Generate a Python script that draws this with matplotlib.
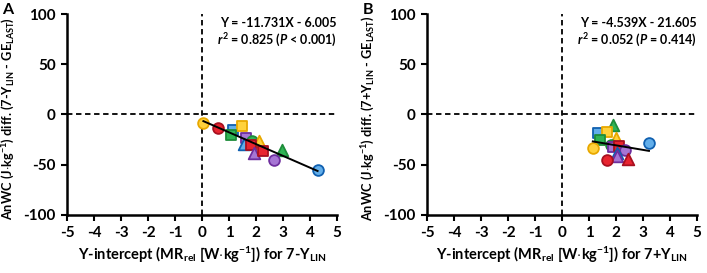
import matplotlib
matplotlib.use("Agg")
import matplotlib.pyplot as plt
import numpy as np

plt.rcParams['font.family'] = ['Lato', 'DejaVu Sans']
plt.rcParams['font.weight'] = 'bold'
plt.rcParams['mathtext.fontset'] = 'custom'
plt.rcParams['mathtext.rm'] = 'Lato:bold'
plt.rcParams['mathtext.it'] = 'Lato:bold:italic'
plt.rcParams['mathtext.bf'] = 'Lato:bold'
plt.rcParams['mathtext.default'] = 'rm'
plt.rcParams['axes.unicode_minus'] = False

# colour / marker per point
colors_a = ['yellow', 'red', 'blue', 'yellow', 'green', 'purple', 'green', 'yellow',
            'blue', 'red', 'purple', 'red', 'green', 'purple', 'blue']
markers_a = ['o', 'o', 's', 's', 's', 's', 'o', '^', '^', 's', '^', 's', '^', 'o', 'o']
x_a = [0.05, 0.6, 1.16, 1.47, 1.07, 1.62, 1.86, 2.11, 1.57, 1.81, 1.93, 2.25, 2.95, 2.67, 4.28]
y_a = [-8.5, -13.6, -15, -11.6, -20, -23, -26.5, -26.5, -29, -30, -38.5, -36, -35, -45, -55]

colors_b = ['green', 'blue', 'yellow', 'green', 'yellow', 'yellow', 'green', 'purple', 'red',
            'purple', 'blue', 'purple', 'red', 'red', 'blue']
markers_b = ['^', 's', 's', 's', '^', 'o', 'o', 's', 's', 'o', '^', '^', 'o', '^', 'o']
x_b = [1.9, 1.35, 1.68, 1.41, 2.0, 1.14, 1.8, 1.9, 2.12, 2.33, 2.02, 2.02, 1.68, 2.45, 3.22]
y_b = [-10.3, -18.6, -17.6, -25, -23.5, -33, -30, -32, -31.5, -35, -38.5, -41, -45, -44, -28.5]

fit_a = (-11.731, -6.005)
fit_b = (-4.539, -21.605)

palette = {
    'yellow': ('#FFD23C', '#E8A800'),
    'red': ('#E8242F', '#A81020'),
    'blue': ('#62AEEA', '#1060B0'),
    'green': ('#2FB454', '#1E8C3A'),
    'purple': ('#A675D4', '#6E2E9E'),
}

fig = plt.figure(figsize=(7.07, 2.73), dpi=100)
axA = fig.add_axes([0.0948, 0.2125, 0.3819, 0.7362])
axB = fig.add_axes([0.604, 0.2125, 0.3819, 0.7362])

def draw(ax, xs, ys, cs, ms, fit, ylabel, xlabel, eq1, eq2, letter):
    ax.axhline(0, color='black', ls=(0, (3, 2)), lw=1.3, zorder=1)
    ax.axvline(0, color='black', ls=(0, (3, 2)), lw=1.3, zorder=1)
    for x, y, c, m in zip(xs, ys, cs, ms):
        fc, ec = palette[c]
        s = 60 if m != '^' else 70
        ax.scatter([x], [y], marker=m, s=s, facecolor=fc, edgecolor=ec, linewidth=1.3, zorder=3)
    xx = np.array([min(xs), max(xs)])
    ax.plot(xx, fit[0] * xx + fit[1], color='black', lw=1.4, zorder=4)
    ax.set_xlim(-5, 5)
    ax.set_ylim(-100, 100)
    ax.set_xticks(range(-5, 6))
    ax.set_yticks([-100, -50, 0, 50, 100])
    for sp in ['top', 'right']:
        ax.spines[sp].set_visible(False)
    for sp in ['left', 'bottom']:
        ax.spines[sp].set_linewidth(1.8)
    ax.tick_params(axis='both', direction='out', width=1.5, length=4, labelsize=11, pad=4)
    ax.set_ylabel(ylabel, fontsize=9.2, fontweight='bold')
    ax.yaxis.set_label_coords(-0.185, 0.48)
    ax.set_xlabel(xlabel, fontsize=10.5, fontweight='bold', labelpad=3)
    ax.text(1.0, 0.955, eq1, transform=ax.transAxes, ha='right', va='center', fontsize=9, fontweight='bold')
    ax.text(1.0, 0.87, eq2, transform=ax.transAxes, ha='right', va='center', fontsize=9, fontweight='bold')
    ax.text(-0.22, 1.02, letter, transform=ax.transAxes, ha='center', va='center', fontsize=11.5, fontweight='bold')

draw(axA, x_a, y_a, colors_a, markers_a, fit_a,
     r'AnWC (J$\cdot$kg$^{-1}$) diff. (7-Y$_{\mathrm{LIN}}$ - GE$_{\mathrm{LAST}}$)',
     r'Y-intercept (MR$_{\mathrm{rel}}$ [W$\cdot$kg$^{-1}$]) for 7-Y$_{\mathrm{LIN}}$',
     'Y = -11.731X - 6.005', r'$\mathit{r}^2$ = 0.825 ($\mathit{P}$ < 0.001)', 'A')
draw(axB, x_b, y_b, colors_b, markers_b, fit_b,
     r'AnWC (J$\cdot$kg$^{-1}$) diff. (7+Y$_{\mathrm{LIN}}$ - GE$_{\mathrm{LAST}}$)',
     r'Y-intercept (MR$_{\mathrm{rel}}$ [W$\cdot$kg$^{-1}$]) for 7+Y$_{\mathrm{LIN}}$',
     'Y = -4.539X - 21.605', r'$\mathit{r}^2$ = 0.052 ($\mathit{P}$ = 0.414)', 'B')

fig.savefig('out.png', dpi=100)
